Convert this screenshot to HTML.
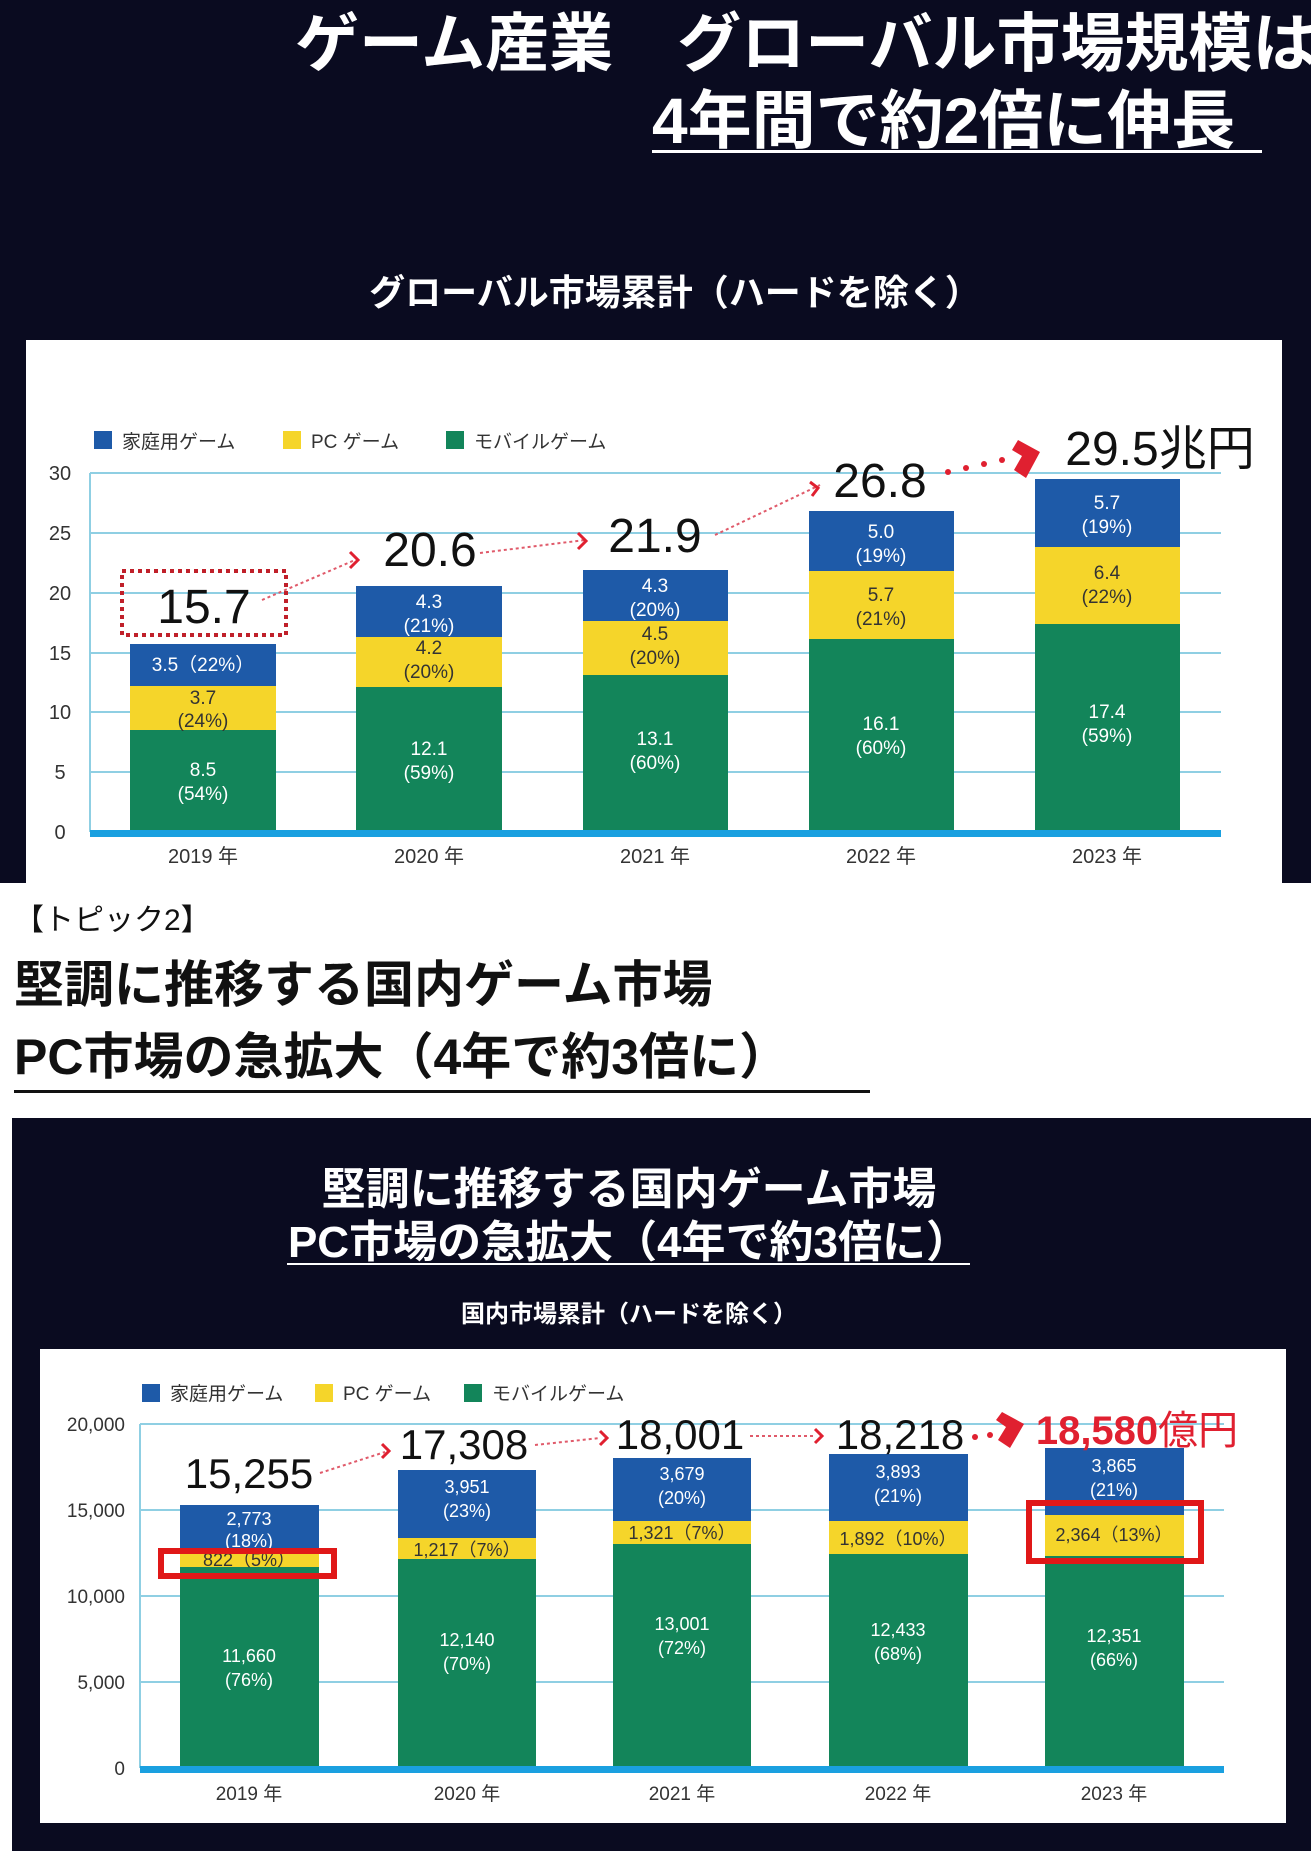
<!DOCTYPE html>
<html><head><meta charset="utf-8"><style>
body{margin:0;width:1311px;height:1851px;overflow:hidden;background:#fff;font-family:"Liberation Sans","Noto Sans CJK JP",sans-serif}
svg text{font-family:"Liberation Sans","Noto Sans CJK JP",sans-serif}
</style></head><body>
<svg width="1311" height="1851" viewBox="0 0 1311 1851" xmlns="http://www.w3.org/2000/svg">
<rect x="0" y="0" width="1311" height="883" fill="#0a0b20"/>
<text x="295" y="66" font-size="64" font-weight="bold" fill="#fff">ゲーム産業　グローバル市場規模は</text>
<text x="652" y="143" font-size="64" font-weight="bold" fill="#fff">4年間で約2倍に伸長</text>
<rect x="652" y="150" width="610" height="3" fill="#fff"/>
<text x="675" y="305" font-size="36" font-weight="bold" fill="#fff" text-anchor="middle">グローバル市場累計（ハードを除く）</text>
<rect x="26" y="340" width="1256" height="543" fill="#fff"/>
<rect x="94" y="431" width="18" height="18" fill="#1e5aa8"/><text x="122" y="448" font-size="19" fill="#333">家庭用ゲーム</text>
<rect x="283" y="431" width="18" height="18" fill="#f5d52a"/><text x="311" y="448" font-size="19" fill="#333">PC ゲーム</text>
<rect x="446" y="431" width="18" height="18" fill="#13855a"/><text x="474" y="448" font-size="19" fill="#333">モバイルゲーム</text>
<g stroke="#8fcfe3" stroke-width="2">
<line x1="90" y1="473" x2="1221" y2="473"/><line x1="90" y1="533" x2="1221" y2="533"/><line x1="90" y1="593" x2="1221" y2="593"/><line x1="90" y1="653" x2="1221" y2="653"/><line x1="90" y1="712" x2="1221" y2="712"/><line x1="90" y1="772" x2="1221" y2="772"/>
<line x1="90" y1="473" x2="90" y2="832"/>
</g>
<g font-size="20" fill="#333" text-anchor="middle">
<text x="60" y="480">30</text><text x="60" y="540">25</text><text x="60" y="600">20</text><text x="60" y="660">15</text><text x="60" y="719">10</text><text x="60" y="779">5</text><text x="60" y="839">0</text>
</g>
<g>
<rect x="130" y="730" width="146" height="102" fill="#13855a"/><rect x="130" y="686" width="146" height="44" fill="#f5d52a"/><rect x="130" y="644" width="146" height="42" fill="#1e5aa8"/>
<rect x="356" y="687" width="146" height="145" fill="#13855a"/><rect x="356" y="637" width="146" height="50" fill="#f5d52a"/><rect x="356" y="586" width="146" height="51" fill="#1e5aa8"/>
<rect x="583" y="675" width="145" height="157" fill="#13855a"/><rect x="583" y="621" width="145" height="54" fill="#f5d52a"/><rect x="583" y="570" width="145" height="51" fill="#1e5aa8"/>
<rect x="809" y="639" width="145" height="193" fill="#13855a"/><rect x="809" y="571" width="145" height="68" fill="#f5d52a"/><rect x="809" y="511" width="145" height="60" fill="#1e5aa8"/>
<rect x="1035" y="624" width="145" height="208" fill="#13855a"/><rect x="1035" y="547" width="145" height="77" fill="#f5d52a"/><rect x="1035" y="479" width="145" height="68" fill="#1e5aa8"/>
</g>
<rect x="90" y="830" width="1131" height="7" fill="#1aa0e0"/>
<g font-size="19" text-anchor="middle">
<text x="203" y="671" fill="#fff">3.5（22%）</text>
<text x="203" y="704" fill="#333">3.7</text><text x="203" y="727" fill="#333">(24%)</text>
<text x="203" y="776" fill="#fff">8.5</text><text x="203" y="800" fill="#fff">(54%)</text>
<text x="429" y="608" fill="#fff">4.3</text><text x="429" y="632" fill="#fff">(21%)</text>
<text x="429" y="654" fill="#333">4.2</text><text x="429" y="678" fill="#333">(20%)</text>
<text x="429" y="755" fill="#fff">12.1</text><text x="429" y="779" fill="#fff">(59%)</text>
<text x="655" y="592" fill="#fff">4.3</text><text x="655" y="616" fill="#fff">(20%)</text>
<text x="655" y="640" fill="#333">4.5</text><text x="655" y="664" fill="#333">(20%)</text>
<text x="655" y="745" fill="#fff">13.1</text><text x="655" y="769" fill="#fff">(60%)</text>
<text x="881" y="538" fill="#fff">5.0</text><text x="881" y="562" fill="#fff">(19%)</text>
<text x="881" y="601" fill="#333">5.7</text><text x="881" y="625" fill="#333">(21%)</text>
<text x="881" y="730" fill="#fff">16.1</text><text x="881" y="754" fill="#fff">(60%)</text>
<text x="1107" y="509" fill="#fff">5.7</text><text x="1107" y="533" fill="#fff">(19%)</text>
<text x="1107" y="579" fill="#333">6.4</text><text x="1107" y="603" fill="#333">(22%)</text>
<text x="1107" y="718" fill="#fff">17.4</text><text x="1107" y="742" fill="#fff">(59%)</text>
</g>
<g font-size="20" fill="#333" text-anchor="middle">
<text x="203" y="863">2019 年</text><text x="429" y="863">2020 年</text><text x="655" y="863">2021 年</text><text x="881" y="863">2022 年</text><text x="1107" y="863">2023 年</text>
</g>
<rect x="122" y="571" width="164" height="64" fill="none" stroke="#c0202a" stroke-width="4" stroke-dasharray="4,4"/>
<g font-size="48" fill="#111" text-anchor="middle">
<text x="204" y="623">15.7</text><text x="430" y="566">20.6</text><text x="655" y="552">21.9</text><text x="880" y="497">26.8</text>
</g>
<text x="1160" y="465" font-size="48" fill="#111" text-anchor="middle">29.5兆円</text>
<g stroke="#e05a6a" stroke-width="2" stroke-dasharray="3,3" fill="none">
<line x1="262" y1="600" x2="355" y2="560"/><line x1="480" y1="553" x2="585" y2="540"/><line x1="715" y1="535" x2="820" y2="485"/>
</g>
<g stroke="#e02030" stroke-width="3" fill="none"><polyline points="350,552 358,560 350,568"/><polyline points="578,533 586,541 578,549"/><polyline points="810,482 818,488 812,496"/></g>
<g fill="#e02030"><circle cx="948" cy="472" r="3"/><circle cx="966" cy="468" r="3"/><circle cx="984" cy="464" r="3"/><circle cx="1002" cy="460" r="3"/></g>
<polygon points="1018,440 1040,452 1026,478 1014,470 1022,456 1012,450" fill="#e02030"/>

<text x="14" y="930" font-size="30" fill="#111">【トピック2】</text>
<text x="14" y="1002" font-size="50" font-weight="bold" fill="#111">堅調に推移する国内ゲーム市場</text>
<text x="14" y="1074" font-size="50" font-weight="bold" fill="#111">PC市場の急拡大（4年で約3倍に）</text>
<rect x="14" y="1090" width="856" height="3" fill="#111"/>

<rect x="12" y="1118" width="1299" height="733" fill="#0a0b20"/>
<text x="629" y="1204" font-size="44" font-weight="bold" fill="#fff" text-anchor="middle">堅調に推移する国内ゲーム市場</text>
<text x="629" y="1257" font-size="44" font-weight="bold" fill="#fff" text-anchor="middle">PC市場の急拡大（4年で約3倍に）</text>
<rect x="287" y="1263" width="683" height="2" fill="#fff"/>
<text x="629" y="1322" font-size="24" font-weight="bold" fill="#fff" text-anchor="middle">国内市場累計（ハードを除く）</text>
<rect x="40" y="1349" width="1246" height="474" fill="#fff"/>
<rect x="142" y="1384" width="18" height="18" fill="#1e5aa8"/><text x="170" y="1400" font-size="19" fill="#333">家庭用ゲーム</text>
<rect x="315" y="1384" width="18" height="18" fill="#f5d52a"/><text x="343" y="1400" font-size="19" fill="#333">PC ゲーム</text>
<rect x="464" y="1384" width="18" height="18" fill="#13855a"/><text x="492" y="1400" font-size="19" fill="#333">モバイルゲーム</text>
<g stroke="#8fcfe3" stroke-width="2">
<line x1="140" y1="1424" x2="1224" y2="1424"/><line x1="140" y1="1510" x2="1224" y2="1510"/><line x1="140" y1="1596" x2="1224" y2="1596"/><line x1="140" y1="1682" x2="1224" y2="1682"/>
<line x1="140" y1="1424" x2="140" y2="1768"/>
</g>
<g font-size="19" fill="#333" text-anchor="end">
<text x="125" y="1431">20,000</text><text x="125" y="1517">15,000</text><text x="125" y="1603">10,000</text><text x="125" y="1689">5,000</text><text x="125" y="1775">0</text>
</g>
<g>
<rect x="180" y="1567" width="139" height="201" fill="#13855a"/><rect x="180" y="1553" width="139" height="14" fill="#f5d52a"/><rect x="180" y="1505" width="139" height="48" fill="#1e5aa8"/>
<rect x="398" y="1559" width="138" height="209" fill="#13855a"/><rect x="398" y="1538" width="138" height="21" fill="#f5d52a"/><rect x="398" y="1470" width="138" height="68" fill="#1e5aa8"/>
<rect x="613" y="1544" width="138" height="224" fill="#13855a"/><rect x="613" y="1521" width="138" height="23" fill="#f5d52a"/><rect x="613" y="1458" width="138" height="63" fill="#1e5aa8"/>
<rect x="829" y="1554" width="139" height="214" fill="#13855a"/><rect x="829" y="1521" width="139" height="33" fill="#f5d52a"/><rect x="829" y="1454" width="139" height="67" fill="#1e5aa8"/>
<rect x="1045" y="1556" width="139" height="212" fill="#13855a"/><rect x="1045" y="1515" width="139" height="41" fill="#f5d52a"/><rect x="1045" y="1448" width="139" height="67" fill="#1e5aa8"/>
</g>
<rect x="140" y="1766" width="1084" height="7" fill="#1aa0e0"/>
<g font-size="18" text-anchor="middle">
<text x="249" y="1525" fill="#fff">2,773</text><text x="249" y="1547" fill="#fff">(18%)</text>
<text x="249" y="1566" fill="#333">822（5%）</text>
<text x="249" y="1662" fill="#fff">11,660</text><text x="249" y="1686" fill="#fff">(76%)</text>
<text x="467" y="1493" fill="#fff">3,951</text><text x="467" y="1517" fill="#fff">(23%)</text>
<text x="467" y="1556" fill="#333">1,217（7%）</text>
<text x="467" y="1646" fill="#fff">12,140</text><text x="467" y="1670" fill="#fff">(70%)</text>
<text x="682" y="1480" fill="#fff">3,679</text><text x="682" y="1504" fill="#fff">(20%)</text>
<text x="682" y="1539" fill="#333">1,321（7%）</text>
<text x="682" y="1630" fill="#fff">13,001</text><text x="682" y="1654" fill="#fff">(72%)</text>
<text x="898" y="1478" fill="#fff">3,893</text><text x="898" y="1502" fill="#fff">(21%)</text>
<text x="898" y="1545" fill="#333">1,892（10%）</text>
<text x="898" y="1636" fill="#fff">12,433</text><text x="898" y="1660" fill="#fff">(68%)</text>
<text x="1114" y="1472" fill="#fff">3,865</text><text x="1114" y="1496" fill="#fff">(21%)</text>
<text x="1114" y="1541" fill="#333">2,364（13%）</text>
<text x="1114" y="1642" fill="#fff">12,351</text><text x="1114" y="1666" fill="#fff">(66%)</text>
</g>
<g font-size="19" fill="#333" text-anchor="middle">
<text x="249" y="1800">2019 年</text><text x="467" y="1800">2020 年</text><text x="682" y="1800">2021 年</text><text x="898" y="1800">2022 年</text><text x="1114" y="1800">2023 年</text>
</g>
<rect x="161" y="1551" width="173" height="25" fill="none" stroke="#e01818" stroke-width="6"/>
<rect x="1029" y="1503" width="172" height="58" fill="none" stroke="#e01818" stroke-width="6"/>
<g font-size="42" fill="#111" text-anchor="middle">
<text x="249" y="1488">15,255</text><text x="464" y="1459">17,308</text><text x="680" y="1449">18,001</text><text x="900" y="1449">18,218</text>
</g>
<text x="1137" y="1444" font-size="40" font-weight="bold" fill="#e02030" text-anchor="middle">18,580<tspan font-weight="normal">億円</tspan></text>
<g stroke="#e05a6a" stroke-width="2" stroke-dasharray="3,3" fill="none">
<line x1="320" y1="1473" x2="385" y2="1452"/><line x1="535" y1="1445" x2="600" y2="1438"/><line x1="750" y1="1436" x2="815" y2="1436"/>
</g>
<g stroke="#e02030" stroke-width="3" fill="none"><polyline points="382,1444 389,1451 382,1458"/><polyline points="600,1431 607,1438 600,1445"/><polyline points="815,1429 822,1436 815,1443"/></g>
<g fill="#e02030"><circle cx="975" cy="1437" r="3"/><circle cx="990" cy="1435" r="3"/></g>
<polygon points="1002,1412 1024,1424 1010,1448 998,1440 1006,1427 996,1420" fill="#e02030"/>
</svg>
</body></html>
